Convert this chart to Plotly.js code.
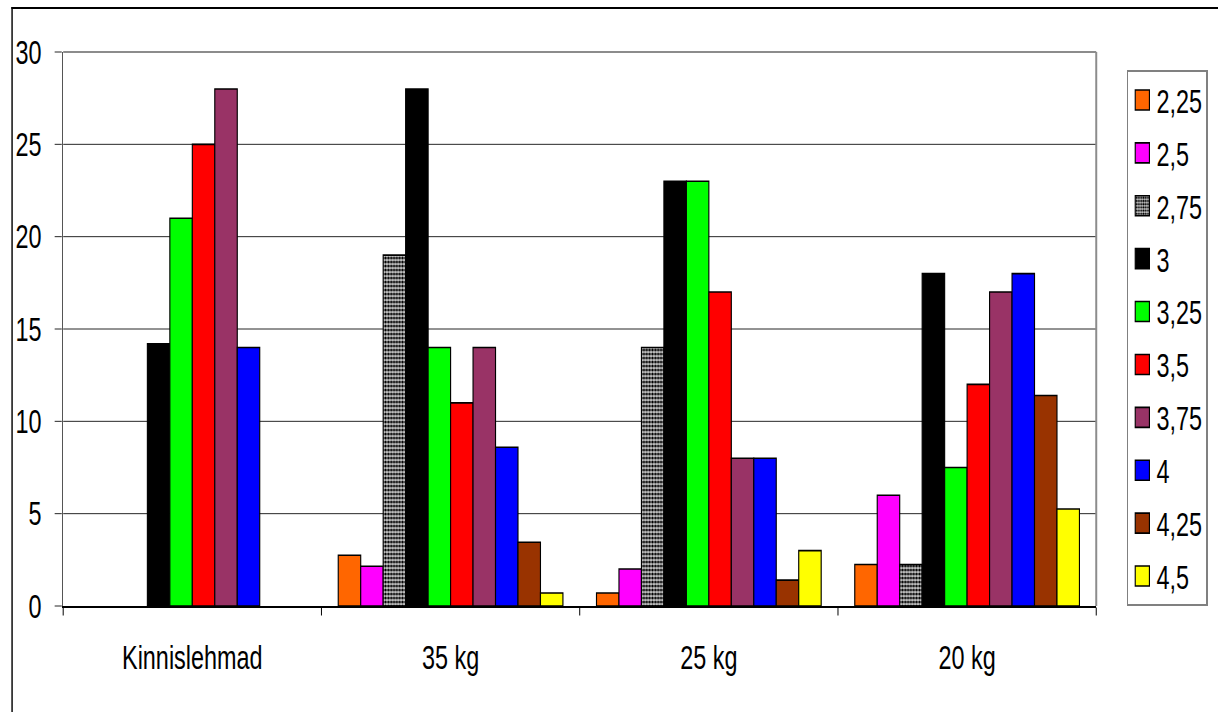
<!DOCTYPE html>
<html>
<head>
<meta charset="utf-8">
<script src="https://cdn.plot.ly/plotly-3.0.1.min.js"></script>
<style>
  html, body { margin: 0; padding: 0; background: #fff; overflow: hidden; width: 1218px; height: 712px; }
  /* chart is laid out wide and squeezed horizontally to the page width */
  #wrap { position: relative; width: 1716px; height: 712px; transform: scaleX(0.71); transform-origin: 0 0; }
  #chart { width: 1716px; height: 712px; }
  #frame {
    position: absolute; left: 16px; top: 7px; right: -10px; bottom: -10px;
    border-left: 2.8px solid #000; border-top: 2px solid #000;
    pointer-events: none;
  }
</style>
</head>
<body>
<div id="wrap">
  <div id="chart"></div>
  <div id="frame"></div>
</div>
<script>
// Groups along the x axis
const categories = ['Kinnislehmad', '35 kg', '25 kg', '20 kg'];

// One series per legend entry
const seriesNames = ['2,25', '2,5', '2,75', '3', '3,25', '3,5', '3,75', '4', '4,25', '4,5'];

const s225 = [0, 2.75, 0.7, 2.25];
const s250 = [0, 2.15, 2.0, 6.0];
const s275 = [0, 19, 14, 2.25];
const s300 = [14.2, 28, 23, 18];
const s325 = [21, 14, 23, 7.5];
const s350 = [25, 11, 17, 12];
const s375 = [28, 14, 8, 17];
const s400 = [14, 8.6, 8, 18];
const s425 = [0, 3.45, 1.4, 11.4];
const s450 = [0, 0.7, 3, 5.25];

const seriesValues = [s225, s250, s275, s300, s325, s350, s375, s400, s425, s450];
const seriesColors = ['#FF6600', '#FF00FF', '#909090', '#000000', '#00FF00',
                      '#FF0000', '#993366', '#0000FF', '#993300', '#FFFF00'];

const yTicks = [0, 5, 10, 15, 20, 25, 30];

const FONT = '"Liberation Sans", Arial, sans-serif';

const traces = seriesNames.map((name, i) => {
  const marker = {
    color: seriesColors[i],
    // no outline on empty bars
    line: { color: '#000', width: seriesValues[i].map(v => (v === 0 ? 0 : 1.6)) }
  };
  if (name === '2,75') {
    // dotted grey fill
    marker.pattern = { shape: '.', fgcolor: '#000', bgcolor: '#c4c4c4', size: 4, solidity: 0.5 };
  }
  return {
    type: 'bar',
    name: name,
    x: categories,
    y: seriesValues[i],
    marker: marker,
    legendgroup: 'g' + i,
    hoverinfo: 'name+y'
  };
});

const layout = {
  width: 1716,
  height: 712,
  margin: { l: 89, r: 172, t: 52, b: 106 },
  paper_bgcolor: '#fff',
  plot_bgcolor: '#fff',
  font: { family: FONT, size: 33, color: '#000' },
  barmode: 'group',
  bargap: 0.13,
  bargroupgap: 0,
  showlegend: true,
  legend: {
    x: 1.0295, xanchor: 'left',
    y: 0.9675, yanchor: 'top',
    bordercolor: '#808080', borderwidth: 2,
    bgcolor: '#fff',
    font: { family: FONT, size: 33, color: '#000' },
    tracegroupgap: 7,
    traceorder: 'grouped',
    itemclick: false
  },
  xaxis: {
    type: 'category',
    showgrid: false,
    showline: true, linecolor: '#000', linewidth: 1.5,
    ticks: 'outside', tickson: 'boundaries', ticklen: 8, tickcolor: '#000', tickwidth: 1.4,
    ticklabelstandoff: 22,
    zeroline: false,
    fixedrange: true
  },
  yaxis: {
    range: [0, 30],
    tickvals: yTicks,
    ticktext: yTicks.map(String),
    showgrid: true, gridcolor: '#000', gridwidth: 1,
    showline: true, linecolor: '#555', linewidth: 2,
    ticks: 'outside', ticklen: 10, tickcolor: '#000', tickwidth: 1,
    ticklabelstandoff: 12,
    zeroline: false,
    fixedrange: true
  },
  shapes: [
    // grey frame on the top and right of the plot area
    { type: 'line', xref: 'paper', yref: 'paper', x0: 0, x1: 1, y0: 1, y1: 1,
      line: { color: '#8c8c8c', width: 2 }, layer: 'above' },
    { type: 'line', xref: 'paper', yref: 'paper', x0: 1, x1: 1, y0: 0, y1: 1,
      line: { color: '#8c8c8c', width: 2.8 }, layer: 'above' }
  ]
};

function styleLegend(gd) {
  // taller legend swatches with a full outline
  gd.querySelectorAll('.legend .legendpoints path').forEach(p => {
    p.setAttribute('d', 'M10,10H-10V-10H10Z');
    p.style.strokeWidth = '1.6px';
    p.style.stroke = '#000';
  });
}

Plotly.newPlot('chart', traces, layout, { displayModeBar: false, staticPlot: true }).then(gd => {
  styleLegend(gd);
  setTimeout(() => styleLegend(gd), 50);
});
</script>
</body>
</html>
